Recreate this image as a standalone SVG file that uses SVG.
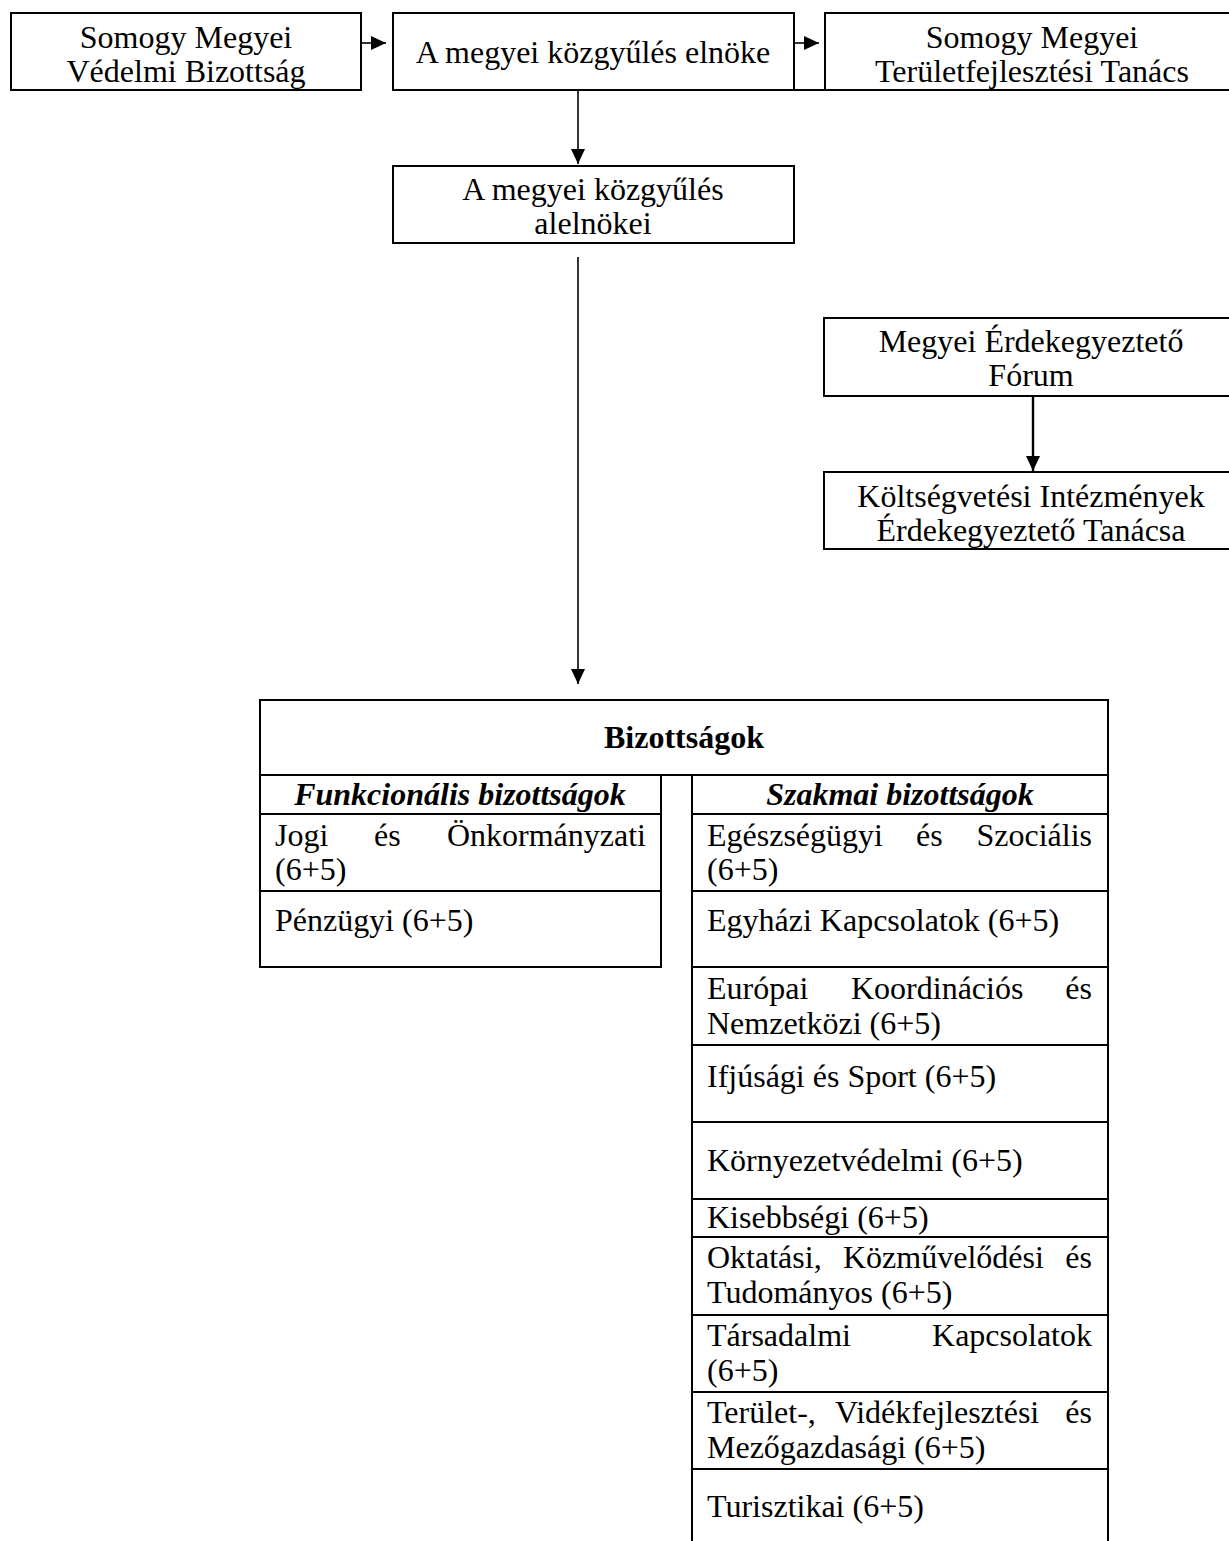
<svg xmlns="http://www.w3.org/2000/svg" width="1229" height="1541" viewBox="0 0 1229 1541">
<style>
.box{fill:#fff;stroke:#000;stroke-width:2}
.t{font-family:"Liberation Serif","Times New Roman",serif;font-size:32px;fill:#000}
.c{text-anchor:middle}
.e{text-anchor:end}
.b{font-weight:bold}
.bi{font-weight:bold;font-style:italic}
.conn{stroke:#000;stroke-width:1.6;fill:none}
.ln{stroke:#000;stroke-width:2;fill:none}
</style>
<defs>
<marker id="ah" markerUnits="userSpaceOnUse" markerWidth="15" markerHeight="14" refX="15" refY="7" orient="auto">
<path d="M0,0 L15,7 L0,14 z" fill="#000"/>
</marker>
</defs>
<rect width="1229" height="1541" fill="#fff"/>

<g id="connectors">
<line class="conn" x1="361" y1="43" x2="386" y2="43" marker-end="url(#ah)"/>
<line class="conn" x1="794" y1="43" x2="819" y2="43" marker-end="url(#ah)"/>
<line class="conn" x1="578" y1="90" x2="578" y2="164" marker-end="url(#ah)"/>
<line class="conn" x1="578" y1="257" x2="578" y2="684" marker-end="url(#ah)"/>
<line class="conn" x1="1033" y1="396" x2="1033" y2="471" marker-end="url(#ah)" style="stroke-width:2.4"/>
<line class="ln" x1="794" y1="90" x2="825" y2="90"/>
</g>

<g id="vedelmi">
<rect class="box" x="11" y="13" width="350" height="77"/>
<text class="t c" x="186" y="48">Somogy Megyei</text>
<text class="t c" x="186" y="82">Védelmi Bizottság</text>
</g>

<g id="elnok">
<rect class="box" x="393" y="13" width="401" height="77"/>
<text class="t c" x="593" y="63">A megyei közgyűlés elnöke</text>
</g>

<g id="teruletfejl">
<rect class="box" x="825" y="13" width="420" height="77"/>
<text class="t c" x="1032" y="48">Somogy Megyei</text>
<text class="t c" x="1032" y="82">Területfejlesztési Tanács</text>
</g>

<g id="alelnokok">
<rect class="box" x="393" y="166" width="401" height="77"/>
<text class="t c" x="593" y="200">A megyei közgyűlés</text>
<text class="t c" x="593" y="234">alelnökei</text>
</g>

<g id="forum">
<rect class="box" x="824" y="318" width="415" height="78"/>
<text class="t c" x="1031" y="352">Megyei Érdekegyeztető</text>
<text class="t c" x="1031" y="386">Fórum</text>
</g>

<g id="koltsegvetesi">
<rect class="box" x="824" y="472" width="415" height="77"/>
<text class="t c" x="1031" y="507">Költségvetési Intézmények</text>
<text class="t c" x="1031" y="541">Érdekegyeztető Tanácsa</text>
</g>

<g id="bizottsagok">
<rect class="box" x="260" y="700" width="848" height="75"/>
<text class="t c b" x="684" y="748">Bizottságok</text>

<g id="funkcionalis">
<rect class="box" x="260" y="775" width="401" height="39"/>
<text class="t c bi" x="460" y="805">Funkcionális bizottságok</text>
<rect class="box" x="260" y="814" width="401" height="77"/>
<text class="t" x="275" y="846">Jogi</text>
<text class="t" x="374" y="846">és</text>
<text class="t e" x="646" y="846">Önkormányzati</text>
<text class="t" x="275" y="880">(6+5)</text>
<rect class="box" x="260" y="891" width="401" height="76"/>
<text class="t" x="275" y="931">Pénzügyi (6+5)</text>
</g>

<g id="szakmai">
<rect class="box" x="692" y="775" width="416" height="39"/>
<text class="t c bi" x="900" y="805">Szakmai bizottságok</text>
<rect class="box" x="692" y="814" width="416" height="77"/>
<text class="t" x="707" y="846">Egészségügyi</text>
<text class="t" x="916" y="846">és</text>
<text class="t e" x="1092" y="846">Szociális</text>
<text class="t" x="707" y="880">(6+5)</text>
<rect class="box" x="692" y="891" width="416" height="76"/>
<text class="t" x="707" y="931">Egyházi Kapcsolatok (6+5)</text>
<rect class="box" x="692" y="967" width="416" height="78"/>
<text class="t" x="707" y="999">Európai</text>
<text class="t" x="851" y="999">Koordinációs</text>
<text class="t e" x="1092" y="999">és</text>
<text class="t" x="707" y="1034">Nemzetközi (6+5)</text>
<rect class="box" x="692" y="1045" width="416" height="77"/>
<text class="t" x="707" y="1087">Ifjúsági és Sport (6+5)</text>
<rect class="box" x="692" y="1122" width="416" height="77"/>
<text class="t" x="707" y="1171">Környezetvédelmi (6+5)</text>
<rect class="box" x="692" y="1199" width="416" height="38"/>
<text class="t" x="707" y="1228">Kisebbségi (6+5)</text>
<rect class="box" x="692" y="1237" width="416" height="78"/>
<text class="t" x="707" y="1268">Oktatási,</text>
<text class="t" x="843" y="1268">Közművelődési</text>
<text class="t e" x="1092" y="1268">és</text>
<text class="t" x="707" y="1303">Tudományos (6+5)</text>
<rect class="box" x="692" y="1315" width="416" height="77"/>
<text class="t" x="707" y="1346">Társadalmi</text>
<text class="t e" x="1092" y="1346">Kapcsolatok</text>
<text class="t" x="707" y="1381">(6+5)</text>
<rect class="box" x="692" y="1392" width="416" height="77"/>
<text class="t" x="707" y="1423">Terület-,</text>
<text class="t" x="835" y="1423">Vidékfejlesztési</text>
<text class="t e" x="1092" y="1423">és</text>
<text class="t" x="707" y="1458">Mezőgazdasági (6+5)</text>
<rect class="box" x="692" y="1469" width="416" height="100"/>
<text class="t" x="707" y="1517">Turisztikai (6+5)</text>
</g>
</g>
</svg>
